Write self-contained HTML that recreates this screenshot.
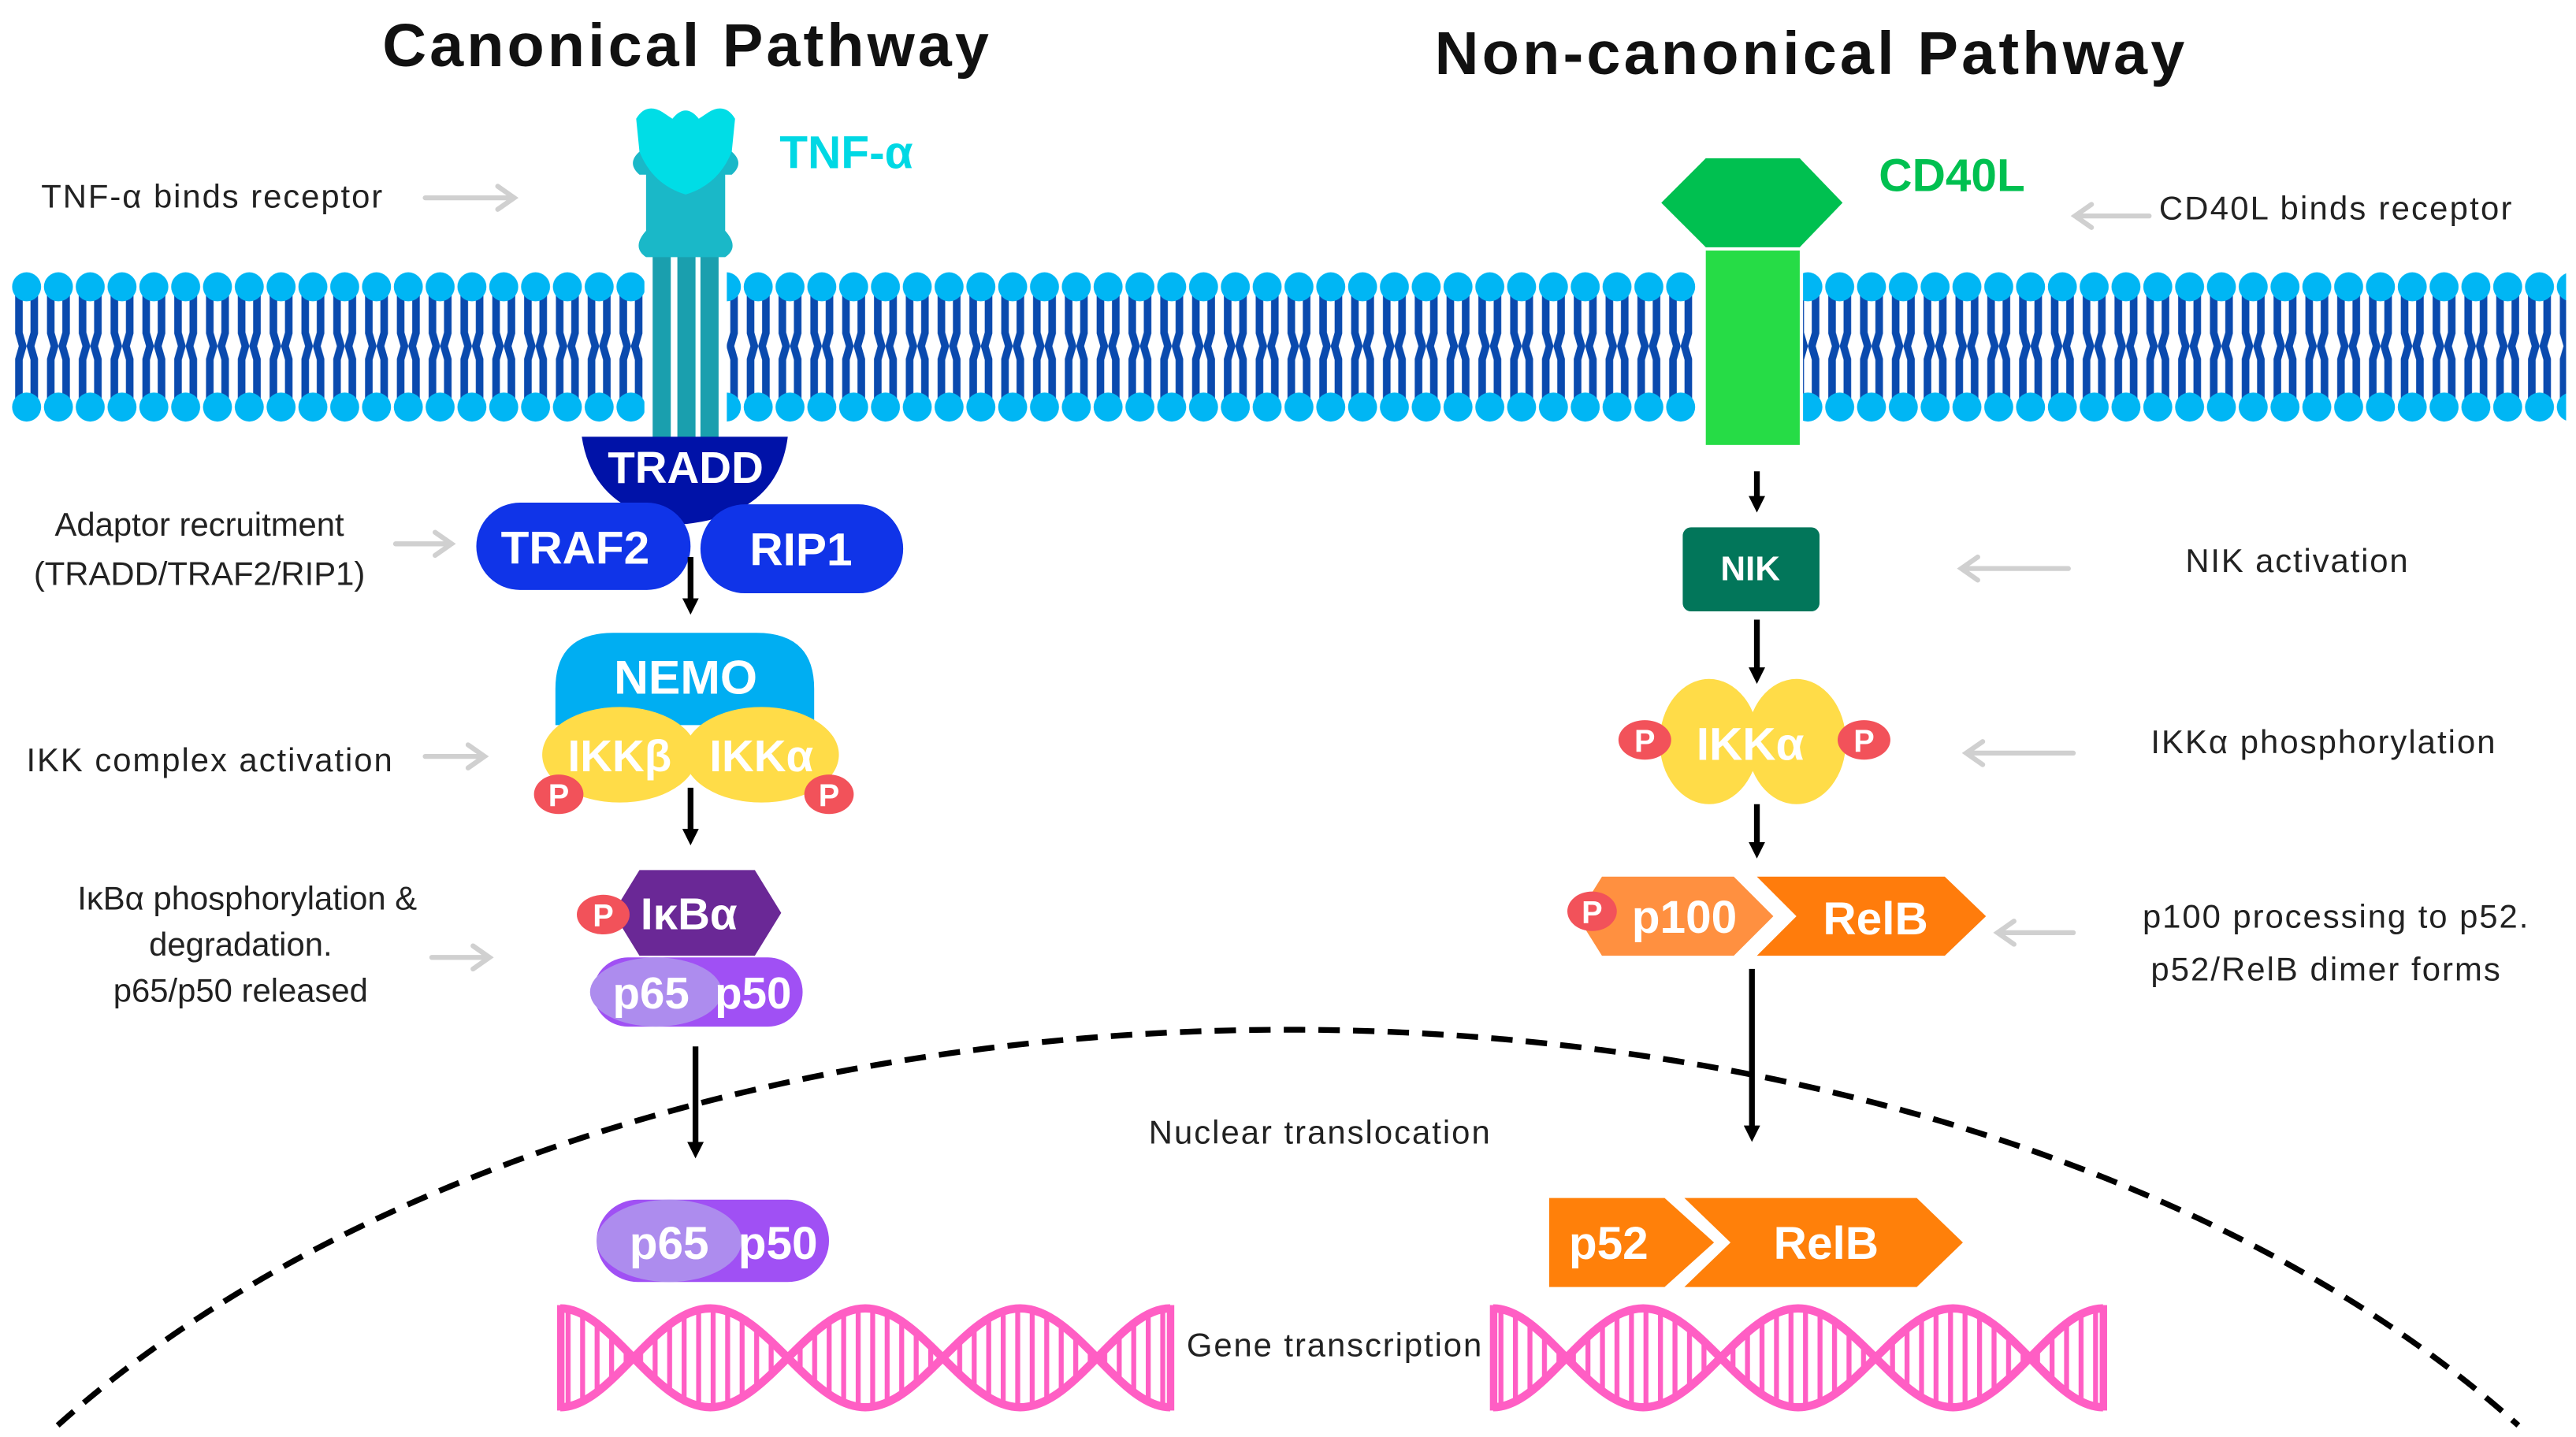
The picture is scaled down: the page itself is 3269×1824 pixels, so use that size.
<!DOCTYPE html>
<html><head><meta charset="utf-8"><style>html,body{margin:0;padding:0;background:#fff}svg{display:block}</style></head>
<body>
<svg width="3269" height="1824" viewBox="0 0 1563 872" xmlns="http://www.w3.org/2000/svg" font-family="Liberation Sans, sans-serif">
<defs>
<pattern id="lip" patternUnits="userSpaceOnUse" x="6.5" y="0" width="19.3" height="872">
<polyline points="5,178 5,202 7.3,210 5,218 5,242" fill="none" stroke="#0a4aae" stroke-width="4.6"/>
<polyline points="14.3,178 14.3,202 12,210 14.3,218 14.3,242" fill="none" stroke="#0a4aae" stroke-width="4.6"/>
<circle cx="9.65" cy="174" r="8.8" fill="#00b6f4"/>
<circle cx="9.65" cy="247" r="8.8" fill="#00b6f4"/>
</pattern>
<pattern id="rung" patternUnits="userSpaceOnUse" x="0" y="0" width="8.8" height="20">
<rect x="0" y="0" width="3" height="20" fill="#ff5ec4"/>
</pattern>
<marker id="ah" markerWidth="10" markerHeight="10" refX="5" refY="5" orient="auto" markerUnits="userSpaceOnUse" viewBox="0 0 10 10"><path d="M0,0 L10,5 L0,10 Z" fill="#000"/></marker>
<clipPath id="dnaclip"><path d="M337,794 C371,794 397,854 431,854 C465,854 491,794 525,794 C559,794 585,854 619,854 C653,854 679,794 713,794 L713,854 C679,854 653,794 619,794 C585,794 559,854 525,854 C491,854 465,794 431,794 C397,794 371,854 337,854 Z"/></clipPath>
<g id="dna">
<rect x="341" y="790" width="370" height="70" fill="url(#rung)" clip-path="url(#dnaclip)"/>
<rect x="338" y="792" width="4.5" height="64" fill="#ff5ec4"/>
<rect x="708" y="792" width="4.5" height="64" fill="#ff5ec4"/>
<path d="M340,794 C371,794 397,854 431,854 C465,854 491,794 525,794 C559,794 585,854 619,854 C653,854 679,794 710,794" fill="none" stroke="#ff5ec4" stroke-width="5"/>
<path d="M340,854 C371,854 397,794 431,794 C465,794 491,854 525,854 C559,854 585,794 619,794 C653,794 679,854 710,854" fill="none" stroke="#ff5ec4" stroke-width="5"/>
</g>
</defs>

<text x="416" y="40" font-size="37" font-weight="bold" text-anchor="middle" textLength="368" fill="#111">Canonical Pathway</text>
<text x="1098" y="45" font-size="37" font-weight="bold" text-anchor="middle" textLength="455" fill="#111">Non-canonical Pathway</text>

<rect x="7" y="160" width="1550" height="100" fill="url(#lip)"/>
<rect x="391" y="158" width="50" height="104" fill="#fff"/>
<rect x="1030" y="158" width="64" height="104" fill="#fff"/>

<rect x="396" y="150" width="11" height="116" fill="#1a9fae"/>
<rect x="411" y="150" width="11" height="116" fill="#1a9fae"/>
<rect x="425" y="150" width="11" height="116" fill="#1a9fae"/>
<path d="M388,92 Q380,99 388,106 L392,106 L392,140 Q383,150 392,156 L440,156 Q449,150 440,140 L440,106 L444,106 Q452,99 444,92 Z" fill="#1ab8c8"/>
<path d="M386,72 Q392,62 402,68 L408,72 Q416,62 424,72 L430,68 Q440,62 446,72 L444,92 Q436,112 416,118 Q396,112 388,92 Z" fill="#00dde6"/>
<text x="473" y="102" font-size="28" font-weight="bold" fill="#00d8e4">TNF-α</text>

<path d="M353,265 L478,265 Q472,312 416,318 Q360,312 353,265 Z" fill="#0012a8"/>
<text x="416" y="293" font-size="27" font-weight="bold" fill="#fff" text-anchor="middle">TRADD</text>
<rect x="289" y="305" width="130" height="53" rx="26.5" fill="#1034e8"/>
<text x="349" y="342" font-size="28" font-weight="bold" fill="#fff" text-anchor="middle">TRAF2</text>
<rect x="425" y="306" width="123" height="54" rx="27" fill="#1034e8"/>
<text x="486" y="343" font-size="28" font-weight="bold" fill="#fff" text-anchor="middle">RIP1</text>
<line x1="419" y1="338" x2="419" y2="368" stroke="#000" stroke-width="3.5" marker-end="url(#ah)"/>

<path d="M337,440 L337,418 Q337,384 372,384 L459,384 Q494,384 494,418 L494,440 Z" fill="#00aef2"/>
<text x="416" y="421" font-size="29" font-weight="bold" fill="#fff" text-anchor="middle">NEMO</text>
<ellipse cx="376" cy="458" rx="47" ry="29" fill="#ffdc48"/>
<ellipse cx="462" cy="458" rx="47" ry="29" fill="#ffdc48"/>
<text x="376" y="468" font-size="27" font-weight="bold" fill="#fff" text-anchor="middle">IKKβ</text>
<text x="462" y="468" font-size="27" font-weight="bold" fill="#fff" text-anchor="middle">IKKα</text>
<ellipse cx="339" cy="482" rx="15" ry="12" fill="#f2525a"/>
<text x="339" y="489" font-size="19" font-weight="bold" fill="#fff" text-anchor="middle">P</text>
<ellipse cx="503" cy="482" rx="15" ry="12" fill="#f2525a"/>
<text x="503" y="489" font-size="19" font-weight="bold" fill="#fff" text-anchor="middle">P</text>
<line x1="419" y1="478" x2="419" y2="508" stroke="#000" stroke-width="3.5" marker-end="url(#ah)"/>

<path d="M372,554 L388,528 L458,528 L474,554 L458,580 L388,580 Z" fill="#6a2896"/>
<text x="418" y="564" font-size="27" font-weight="bold" fill="#fff" text-anchor="middle">IκBα</text>
<ellipse cx="366" cy="555" rx="16" ry="12" fill="#f2525a"/>
<text x="366" y="562" font-size="19" font-weight="bold" fill="#fff" text-anchor="middle">P</text>
<rect x="360" y="581" width="127" height="42" rx="21" fill="#a050f4"/>
<ellipse cx="398" cy="602" rx="40" ry="21" fill="#ad8cee"/>
<text x="395" y="612" font-size="27" font-weight="bold" fill="#fff" text-anchor="middle">p65</text>
<text x="457" y="612" font-size="27" font-weight="bold" fill="#fff" text-anchor="middle">p50</text>
<line x1="422" y1="635" x2="422" y2="698" stroke="#000" stroke-width="3.5" marker-end="url(#ah)"/>

<path d="M35,865 A900,544 0 0 1 1528,865" fill="none" stroke="#000" stroke-width="3.5" stroke-dasharray="13,8"/>

<rect x="362" y="728" width="141" height="50" rx="25" fill="#a050f4"/>
<ellipse cx="406" cy="753" rx="44" ry="25" fill="#ad8cee"/>
<text x="406" y="764" font-size="28" font-weight="bold" fill="#fff" text-anchor="middle">p65</text>
<text x="472" y="764" font-size="28" font-weight="bold" fill="#fff" text-anchor="middle">p50</text>

<use href="#dna"/>
<use href="#dna" transform="translate(566,0)"/>

<path d="M1008,123 L1035,96 L1092,96 L1118,123 L1092,150 L1035,150 Z" fill="#00c050"/>
<rect x="1035" y="152" width="57" height="118" fill="#26dc46"/>
<text x="1140" y="116" font-size="28" font-weight="bold" fill="#00c050">CD40L</text>
<line x1="1066" y1="286" x2="1066" y2="306" stroke="#000" stroke-width="3.5" marker-end="url(#ah)"/>
<rect x="1021" y="320" width="83" height="51" rx="5" fill="#02765a"/>
<text x="1062" y="352" font-size="21" font-weight="bold" fill="#fff" text-anchor="middle">NIK</text>
<line x1="1066" y1="376" x2="1066" y2="410" stroke="#000" stroke-width="3.5" marker-end="url(#ah)"/>
<ellipse cx="1037" cy="450" rx="30" ry="38" fill="#ffdc48"/>
<ellipse cx="1090" cy="450" rx="30" ry="38" fill="#ffdc48"/>
<text x="1062" y="461" font-size="28" font-weight="bold" fill="#fff" text-anchor="middle">IKKα</text>
<ellipse cx="998" cy="449" rx="16" ry="12" fill="#f2525a"/>
<text x="998" y="456" font-size="19" font-weight="bold" fill="#fff" text-anchor="middle">P</text>
<ellipse cx="1131" cy="449" rx="16" ry="12" fill="#f2525a"/>
<text x="1131" y="456" font-size="19" font-weight="bold" fill="#fff" text-anchor="middle">P</text>
<line x1="1066" y1="488" x2="1066" y2="516" stroke="#000" stroke-width="3.5" marker-end="url(#ah)"/>

<path d="M957,556 L972,532 L1052,532 L1076,556 L1052,580 L972,580 Z" fill="#ff9040"/>
<path d="M1066,532 L1180,532 L1205,556 L1180,580 L1066,580 L1090,556 Z" fill="#ff7c0c"/>
<ellipse cx="966" cy="553" rx="15" ry="12" fill="#f2525a"/>
<text x="966" y="560" font-size="19" font-weight="bold" fill="#fff" text-anchor="middle">P</text>
<text x="1022" y="566" font-size="28" font-weight="bold" fill="#fff" text-anchor="middle">p100</text>
<text x="1138" y="567" font-size="28" font-weight="bold" fill="#fff" text-anchor="middle">RelB</text>
<line x1="1063" y1="588" x2="1063" y2="688" stroke="#000" stroke-width="3.5" marker-end="url(#ah)"/>

<path d="M940,727 L1010,727 L1040,754 L1010,781 L940,781 Z" fill="#ff800a"/>
<path d="M1022,727 L1163,727 L1191,754 L1163,781 L1022,781 L1050,754 Z" fill="#ff800a"/>
<text x="976" y="764" font-size="28" font-weight="bold" fill="#fff" text-anchor="middle">p52</text>
<text x="1108" y="764" font-size="28" font-weight="bold" fill="#fff" text-anchor="middle">RelB</text>

<g font-size="20" fill="#222">
<text x="25" y="126" textLength="207">TNF-α binds receptor</text>
<text x="121" y="325" text-anchor="middle">Adaptor recruitment</text>
<text x="121" y="355" text-anchor="middle">(TRADD/TRAF2/RIP1)</text>
<text x="16" y="468" textLength="222">IKK complex activation</text>
<text x="150" y="552" text-anchor="middle">IκBα phosphorylation &amp;</text>
<text x="146" y="580" text-anchor="middle">degradation.</text>
<text x="146" y="608" text-anchor="middle">p65/p50 released</text>
<text x="1310" y="133" textLength="214">CD40L binds receptor</text>
<text x="1326" y="347" textLength="135">NIK activation</text>
<text x="1305" y="457" textLength="209">IKKα phosphorylation</text>
<text x="1300" y="563" textLength="234">p100 processing to p52.</text>
<text x="1305" y="595" textLength="212">p52/RelB dimer forms</text>
<text x="697" y="694" textLength="207">Nuclear translocation</text>
<text x="720" y="823" textLength="179">Gene transcription</text>
</g>

<g stroke="#d0d0d0" stroke-width="3" fill="none" stroke-linecap="round">
<path d="M258,120 L312,120 M302,113 L312,120 L302,127"/>
<path d="M240,330 L274,330 M264,323 L274,330 L264,337"/>
<path d="M258,459 L294,459 M284,452 L294,459 L284,466"/>
<path d="M262,581 L297,581 M287,574 L297,581 L287,588"/>
<path d="M1304,131 L1259,131 M1269,124 L1259,131 L1269,138"/>
<path d="M1255,345 L1190,345 M1200,338 L1190,345 L1200,352"/>
<path d="M1258,457 L1193,457 M1203,450 L1193,457 L1203,464"/>
<path d="M1258,566 L1212,566 M1222,559 L1212,566 L1222,573"/>
</g>
</svg>
</body></html>
